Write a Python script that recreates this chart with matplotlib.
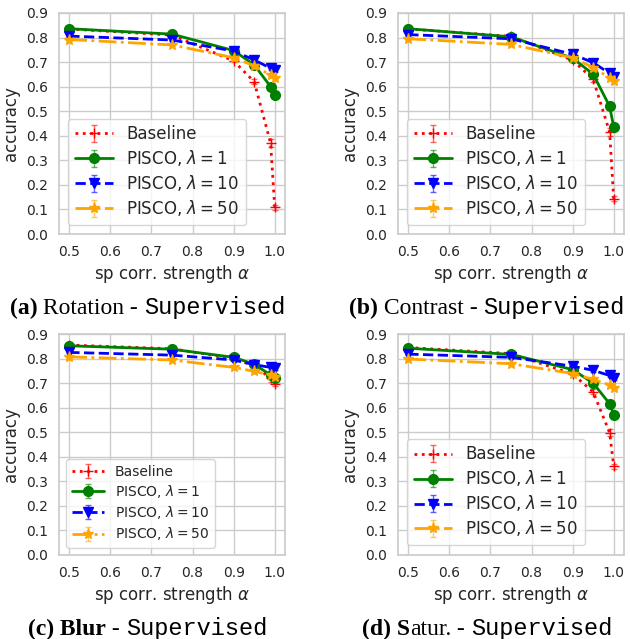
import numpy as np
import matplotlib.pyplot as plt
import seaborn as sns

sns.set_theme(style="whitegrid")
plt.rcParams['font.family'] = ['DejaVu Sans']

alphas = [0.5, 0.75, 0.9, 0.95, 0.99, 1.0]

# accuracy per panel: baseline, PISCO lambda=1, 10, 50
rot_base = [0.835, 0.81, 0.705, 0.62, 0.37, 0.108]
rot_l1 = [0.836, 0.814, 0.747, 0.689, 0.600, 0.565]
rot_l10 = [0.806, 0.790, 0.745, 0.709, 0.675, 0.666]
rot_l50 = [0.792, 0.770, 0.718, 0.685, 0.647, 0.636]

con_base = [0.835, 0.805, 0.708, 0.63, 0.415, 0.143]
con_l1 = [0.836, 0.803, 0.716, 0.651, 0.520, 0.435]
con_l10 = [0.812, 0.795, 0.732, 0.698, 0.654, 0.640]
con_l50 = [0.795, 0.772, 0.718, 0.678, 0.636, 0.625]

blur_base = [0.855, 0.840, 0.800, 0.770, 0.720, 0.698]
blur_l1 = [0.852, 0.838, 0.805, 0.777, 0.733, 0.719]
blur_l10 = [0.825, 0.814, 0.794, 0.775, 0.764, 0.760]
blur_l50 = [0.807, 0.794, 0.764, 0.748, 0.733, 0.723]

sat_base = [0.845, 0.820, 0.737, 0.664, 0.498, 0.362]
sat_l1 = [0.842, 0.817, 0.755, 0.700, 0.616, 0.572]
sat_l10 = [0.818, 0.805, 0.769, 0.752, 0.731, 0.720]
sat_l50 = [0.798, 0.779, 0.739, 0.715, 0.692, 0.680]

# standard deviations (small)
err_base = [0.004, 0.005, 0.006, 0.010, 0.015, 0.010]
err_pisco = [0.004, 0.004, 0.005, 0.006, 0.008, 0.008]

W, H = 630, 639
fig = plt.figure(figsize=(W / 100, H / 100), dpi=100)

bold = dict(family="Liberation Serif", weight="bold")
serif = dict(family="Liberation Serif")
mono = dict(family="Liberation Mono")

panels = [
    ([("(a)", bold), (" Rotation", serif)], rot_base, rot_l1, rot_l10, rot_l50, (59, 13), 12, (68, 225)),
    ([("(b)", bold), (" Contrast", serif)], con_base, con_l1, con_l10, con_l50, (398, 13), 12, (407, 225)),
    ([("(c)", bold), (" Blur", bold)], blur_base, blur_l1, blur_l10, blur_l50, (59, 334), 10, (66, 548)),
    ([("(d)", bold), (" S", bold), ("atur.", serif)], sat_base, sat_l1, sat_l10, sat_l50, (398, 334), 12, (407, 545)),
]

aw, ah = 226, 221
for head, base, l1, l10, l50, (px, py), lfs, (lx, ly) in panels:
    ax = fig.add_axes([px / W, 1 - (py + ah) / H, aw / W, ah / H])
    ax.errorbar(alphas, base, yerr=err_base, color="red", ls=":", lw=2,
                marker="+", ms=7, ecolor=(1, 0, 0, 0.6), elinewidth=1, capsize=2,
                label="Baseline")
    ax.errorbar(alphas, l1, yerr=err_pisco, color="green", ls="-", lw=2,
                marker="o", ms=7, ecolor=(0, 0.5, 0, 0.6), elinewidth=1, capsize=2,
                label=r"PISCO, $\lambda=1$")
    ax.errorbar(alphas, l10, yerr=err_pisco, color="blue", ls="--", lw=2,
                marker="v", ms=7, ecolor=(0, 0, 1, 0.6), elinewidth=1, capsize=2,
                label=r"PISCO, $\lambda=10$")
    ax.errorbar(alphas, l50, yerr=err_pisco, color="orange", ls="-.", lw=2,
                marker="*", ms=8, ecolor=(1, 0.65, 0, 0.6), elinewidth=1, capsize=2,
                label=r"PISCO, $\lambda=50$")
    ax.set_ylim(0, 0.9)
    ax.set_yticks(np.arange(0, 0.91, 0.1))
    ax.set_xticks([0.5, 0.6, 0.7, 0.8, 0.9, 1.0])
    ax.tick_params(labelsize=10, pad=2)
    ax.set_ylabel("accuracy", fontsize=12, labelpad=4)
    ax.set_xlabel(r"sp corr. strength $\alpha$", fontsize=12, labelpad=3)
    ax.legend(loc="lower left", fontsize=lfs, handlelength=2.3,
              bbox_to_anchor=((lx - px) / aw, (py + ah - ly) / ah),
              borderaxespad=0, labelspacing=0.3)

    # caption built from pieces with different fonts
    cy = 1 - (py + 301) / H
    cx_center = 147.5 if px < 300 else 487
    pieces = head + [(" - ", serif), ("Supervised", mono)]
    texts = []
    for s, kw in pieces:
        texts.append(fig.text(0, cy, s, fontsize=17, va="baseline", ha="left",
                              color="black", **kw))
    fig.canvas.draw()
    r = fig.canvas.get_renderer()
    widths = [t.get_window_extent(r).width for t in texts]
    x = cx_center - sum(widths) / 2
    for t, w in zip(texts, widths):
        t.set_x(x / W)
        x += w

fig.savefig("out.png", dpi=100)
